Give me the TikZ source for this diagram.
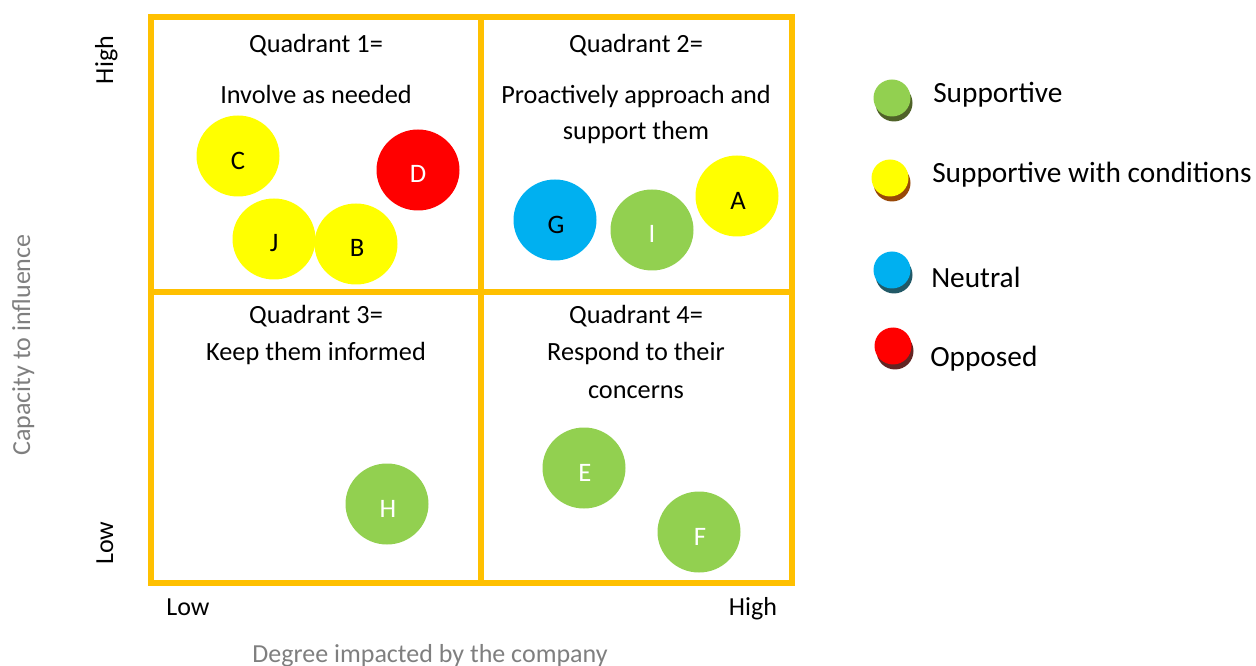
\documentclass[tikz,border=0pt]{standalone}
\usepackage{fontspec}
\setmainfont{Carlito}
\usetikzlibrary{shapes.geometric}
\definecolor{gold}{HTML}{FFC000}
\definecolor{sgreen}{HTML}{92D050}
\definecolor{sgreendk}{HTML}{4F6228}
\definecolor{syellow}{HTML}{FFFF00}
\definecolor{syellowdk}{HTML}{984807}
\definecolor{sblue}{HTML}{00B0F0}
\definecolor{sbluedk}{HTML}{215967}
\definecolor{sred}{HTML}{FF0000}
\definecolor{sreddk}{HTML}{632523}
\definecolor{axgray}{HTML}{7F7F7F}
\tikzset{
  grid/.style={draw=gold, line width=4.5pt},
  bub/.style={ellipse, draw=none, minimum width=62.25pt, minimum height=60.75pt, inner sep=0pt},
  blet/.style={font=\fontsize{20}{24}\selectfont, inner sep=0pt},
  qtext/.style={font=\fontsize{19.7}{23}\selectfont, anchor=base, inner sep=0pt},
  legtext/.style={font=\fontsize{22}{26}\selectfont, anchor=base west, inner sep=0pt},
  axtext/.style={font=\fontsize{19.5}{23}\selectfont, anchor=base, inner sep=0pt},
  legdot/.style={circle, minimum size=27.75pt, inner sep=0pt, draw=none},
}
\begin{document}
\begin{tikzpicture}[x=0.75pt,y=-0.75pt]
\useasboundingbox (0,0) rectangle (1256,666);
% grid
\coordinate (tl) at (151,17);
\coordinate (br) at (792,583);
\coordinate (mt) at (481,17);
\coordinate (mb) at (481,583);
\coordinate (ml) at (151,292);
\coordinate (mr) at (792,292);
\draw[grid] (tl) rectangle (br);
\draw[grid] (mt) -- (mb);
\draw[grid] (ml) -- (mr);
% quadrant texts
\node[qtext] (q1a) at (316,53) {Quadrant 1=};
\node[qtext] (q1b) at (316,104) {Involve as needed};
\node[qtext] (q2a) at (636,53) {Quadrant 2=};
\node[qtext] (q2b) at (636,104) {Proactively approach and};
\node[qtext] (q2c) at (636,140) {support them};
\node[qtext] (q3a) at (316,324) {Quadrant 3=};
\node[qtext] (q3b) at (316,361) {Keep them informed};
\node[qtext] (q4a) at (636,324) {Quadrant 4=};
\node[qtext] (q4b) at (636,361) {Respond to their};
\node[qtext] (q4c) at (636,398) {concerns};
% bubbles
\node[bub, fill=syellow] (C) at (238,156) {};
\node[blet] (Ct) at (238,161) {C};
\node[bub, fill=sred] (D) at (418,170) {};
\node[blet, text=white] (Dt) at (418,174) {D};
\node[bub, fill=syellow] (J) at (274,239) {};
\node[blet] (Jt) at (274,243) {J};
\node[bub, fill=syellow] (B) at (356,244) {};
\node[blet] (Bt) at (357,248) {B};
\node[bub, fill=sblue] (G) at (555,220) {};
\node[blet] (Gt) at (556,225) {G};
\node[bub, fill=sgreen] (I) at (652,230) {};
\node[blet, text=white] (It) at (652,234) {I};
\node[bub, fill=syellow] (A) at (737,196) {};
\node[blet] (At) at (738,201) {A};
\node[bub, fill=sgreen] (H) at (387,504) {};
\node[blet, text=white] (Ht) at (388,509) {H};
\node[bub, fill=sgreen] (E) at (584,468) {};
\node[blet, text=white] (Et) at (585,473) {E};
\node[bub, fill=sgreen] (F) at (699,532) {};
\node[blet, text=white] (Ft) at (700,537) {F};
% axes
\node[axtext, rotate=90] (yhigh) at (113,60) {High};
\node[axtext, rotate=90] (ylow) at (113,543) {Low};
\node[axtext, rotate=90, text=axgray] (ylab) at (30,345) {Capacity to influence};
\node[axtext] (xlow) at (188,615) {Low};
\node[axtext] (xhigh) at (753,615) {High};
\node[axtext, text=axgray] (xlab) at (430,662) {Degree impacted by the company};
% legend
\node[legdot, fill=sgreendk] (l1s) at (894,103) {};
\node[legdot, fill=sgreen] (l1) at (892,98) {};
\node[legdot, fill=syellowdk] (l2s) at (892,183) {};
\node[legdot, fill=syellow] (l2) at (890,178) {};
\node[legdot, fill=sbluedk] (l3s) at (894,275) {};
\node[legdot, fill=sblue] (l3) at (892,270) {};
\node[legdot, fill=sreddk] (l4s) at (895,351) {};
\node[legdot, fill=sred] (l4) at (893,346) {};
\node[legtext] (t1) at (933,103) {Supportive};
\node[legtext] (t2) at (932,183) {Supportive with conditions};
\node[legtext] (t3) at (931,288) {Neutral};
\node[legtext] (t4) at (930,367) {Opposed};
\end{tikzpicture}
\end{document}
